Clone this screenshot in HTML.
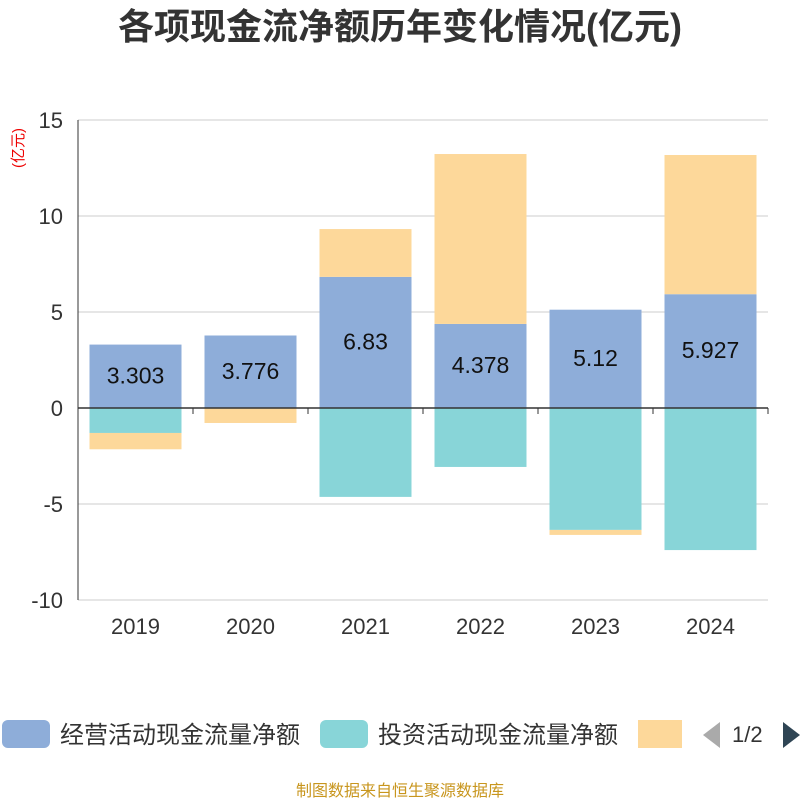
<!DOCTYPE html>
<html><head><meta charset="utf-8"><style>
body{margin:0;background:#fff;width:800px;height:800px;overflow:hidden;font-family:"Liberation Sans","Noto Sans CJK SC",sans-serif}
</style></head><body>
<svg id="c" width="800" height="800" xmlns="http://www.w3.org/2000/svg">
<text x="400" y="39" text-anchor="middle" font-size="36" font-weight="bold" fill="#333" style="font-family:'Liberation Sans','Noto Sans CJK SC',sans-serif">各项现金流净额历年变化情况(亿元)</text>
<text x="0" y="0" transform="translate(23,148) rotate(-90)" text-anchor="middle" font-size="15" fill="#e00">(亿元)</text>
<g id="grid"></g><g id="bars"></g><g id="axes"></g>
<g>
<rect x="2" y="720" width="48" height="28" rx="6" fill="#8eadd9"/>
<text x="60" y="743" font-size="24" fill="#333">经营活动现金流量净额</text>
<rect x="320" y="720" width="48" height="28" rx="6" fill="#88d5d8"/>
<text x="378" y="743" font-size="24" fill="#333">投资活动现金流量净额</text>
<rect x="638" y="720" width="44" height="28" fill="#fdd89a"/>
<polygon points="720,722 720,748 703,735" fill="#aaa"/>
<text x="732" y="742" font-size="22" fill="#333">1/2</text>
<polygon points="783,722 783,748 800,735" fill="#2f4554"/>
</g>
<text x="400" y="796" text-anchor="middle" font-size="16" fill="#c8961e">制图数据来自恒生聚源数据库</text>
</svg>
<script>
const categories=["2019","2020","2021","2022","2023","2024"];
const operating=[3.303,3.776,6.83,4.378,5.12,5.927];
const investing=[-1.3,0,-4.63,-3.07,-6.35,-7.4];
const financing=[-0.85,-0.78,2.49,8.85,-0.26,7.25];
const yTicks=[15,10,5,0,-5,-10];
const NS="http://www.w3.org/2000/svg";
const x0=78,x1=768,y=v=>408-v*19.2,bw=115;
function mk(t,a,p){const e=document.createElementNS(NS,t);for(const k in a)e.setAttribute(k,a[k]);p.appendChild(e);return e;}
const g=document.getElementById('grid'),b=document.getElementById('bars'),ax=document.getElementById('axes');
yTicks.forEach(v=>{const l=mk('line',{x1:x0,x2:x1,y1:y(v),y2:y(v),stroke:'#ccc','stroke-width':1},g);


const t=mk('text',{x:63,y:y(v)+8,'text-anchor':'end','font-size':22,fill:'#333'},ax);t.textContent=v;

});
const yl=mk('line',{x1:x0,x2:x0,y1:y(15),y2:y(-10),stroke:'#333'},ax);


const xl=mk('line',{x1:x0,x2:x1,y1:y(0),y2:y(0),stroke:'#333','stroke-width':1.5},ax);


categories.forEach((c,i)=>{
const cx=x0+bw*(i+0.5),bx=cx-46,w=92;
const tk=mk('line',{x1:x0+bw*(i+1),x2:x0+bw*(i+1),y1:y(0),y2:y(0)+6,stroke:'#333'},ax);


let pos=0,neg=0;
function seg(v,col,name){if(v===0)return;let a,bb;if(v>0){a=pos;bb=pos+v;pos=bb;}else{a=neg;bb=neg+v;neg=bb;}
const r=mk('rect',{x:bx,y:y(Math.max(a,bb)),width:w,height:Math.abs(v)*19.2,fill:col},b);

}
seg(operating[i],'#8eadd9','bar-operating');
seg(investing[i],'#88d5d8','bar-investing');
seg(financing[i],'#fdd89a','bar-financing');
const lt=mk('text',{x:cx,y:y(operating[i]/2)+7,'text-anchor':'middle','font-size':23,fill:'#111'},b);lt.textContent=operating[i];


const xt=mk('text',{x:cx,y:634,'text-anchor':'middle','font-size':22,fill:'#333'},ax);xt.textContent=c;


});
</script>
</body></html>
